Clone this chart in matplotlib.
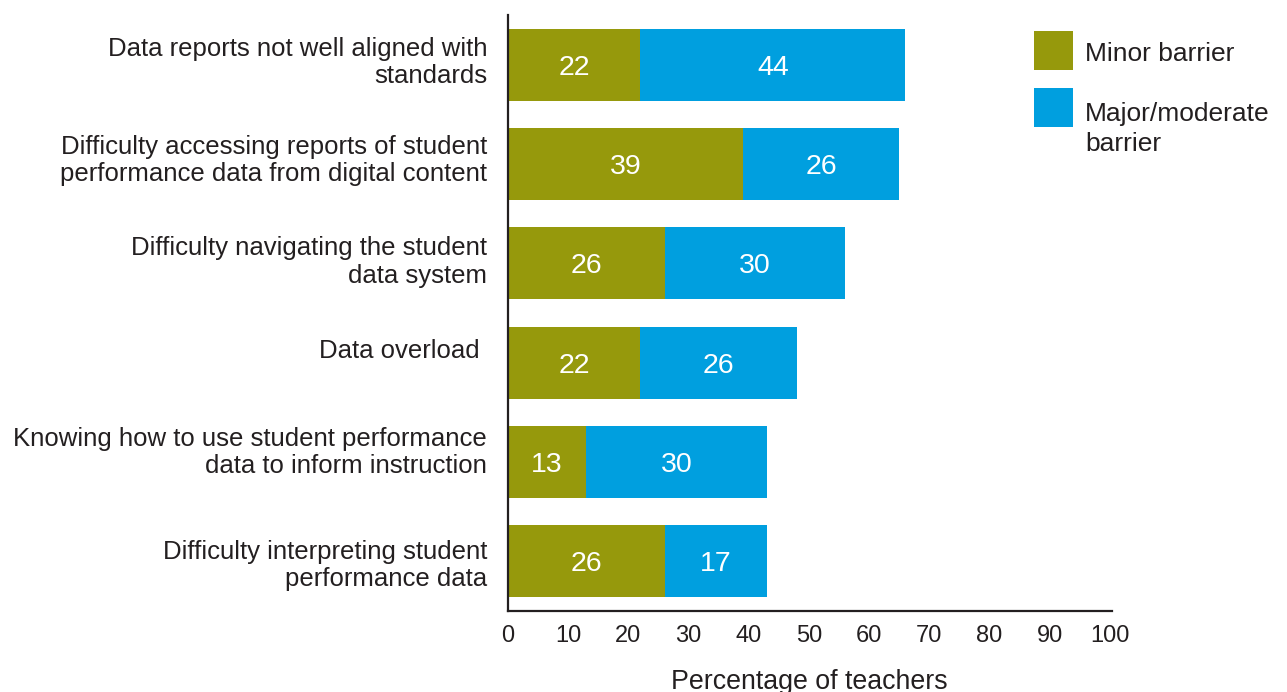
import matplotlib
matplotlib.use("Agg")
import matplotlib.pyplot as plt
from matplotlib.patches import Rectangle
from matplotlib.transforms import ScaledTranslation

plt.rcParams['font.family'] = ['Liberation Sans', 'DejaVu Sans']

categories = [
    "Data reports not well aligned with\nstandards",
    "Difficulty accessing reports of student\nperformance data from digital content",
    "Difficulty navigating the student\ndata system",
    "Data overload ",
    "Knowing how to use student performance\ndata to inform instruction",
    "Difficulty interpreting student\nperformance data",
]
minor = [22, 39, 26, 22, 13, 26]
major = [44, 26, 30, 26, 30, 17]
series_names = ["Minor barrier", "Major/moderate\nbarrier"]
x_ticks = [0, 10, 20, 30, 40, 50, 60, 70, 80, 90, 100]
x_label = "Percentage of teachers"

OLIVE = "#96990C"
BLUE = "#009FDF"
INK = "#231F20"

fig = plt.figure(figsize=(12.87, 6.92), dpi=100)
W, H = 1287, 692
ax = fig.add_axes([508 / W, 1 - 611 / H, (1110 - 508) / W, (611 - 15) / H])

y = list(range(len(categories)))
ax.barh(y, minor, height=0.725, color=OLIVE, edgecolor='none')
ax.barh(y, major, left=minor, height=0.725, color=BLUE, edgecolor='none')

# value labels centred inside each segment
for yi, a, b in zip(y, minor, major):
    ax.text(a / 2, yi, str(a), ha='center', va='center_baseline',
            color='white', fontsize=20.5)
    ax.text(a + b / 2, yi, str(b), ha='center', va='center_baseline',
            color='white', fontsize=20.5)

ax.set_ylim(len(categories) - 0.5, -0.5)
ax.set_xlim(0, 100)
ax.set_yticks(y)
ax.set_yticklabels(categories, fontsize=18.5, color=INK, linespacing=1.17)
ax.set_xticks(x_ticks)
ax.set_xticklabels([str(t) for t in x_ticks], fontsize=17, color=INK)
ax.tick_params(axis='both', length=0)
ax.tick_params(axis='y', pad=15)
ax.tick_params(axis='x', pad=10)
ax.set_xlabel(x_label, fontsize=19.3, color=INK, labelpad=16)

# nudge each category label up a little (pixels)
label_nudge = [6.5, 8, 5.5, 14, 14, 0]
for lab, dy in zip(ax.get_yticklabels(), label_nudge):
    lab.set_transform(lab.get_transform()
                      + ScaledTranslation(0, dy / 100, fig.dpi_scale_trans))

for side in ('top', 'right'):
    ax.spines[side].set_visible(False)
for side in ('left', 'bottom'):
    ax.spines[side].set_color(INK)
    ax.spines[side].set_linewidth(1.6)
ax.spines['bottom'].set_bounds(0, 100.3)

# legend drawn as swatches and text in figure pixels
def fx(px):
    return px / W

def fy(py):
    return 1 - py / H

for color, top, name, base in [(OLIVE, 31, series_names[0], 61),
                               (BLUE, 88, series_names[1], 151)]:
    fig.add_artist(Rectangle((fx(1034), fy(top + 39)), 39 / W, 39 / H,
                             transform=fig.transFigure, color=color, lw=0))
    fig.text(fx(1085), fy(base), name, fontsize=19, color=INK,
             ha='left', va='baseline', linespacing=1.3)

fig.savefig("out.png", dpi=100)
